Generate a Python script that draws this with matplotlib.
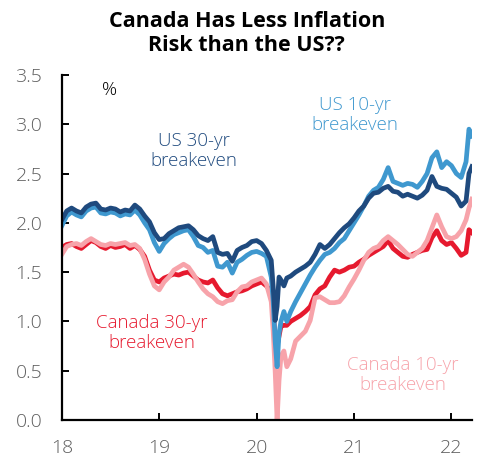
import numpy as np
import matplotlib
matplotlib.use('Agg')
import matplotlib.pyplot as plt

plt.rcParams['font.family'] = ['Open Sans', 'DejaVu Sans']

# decimal year (18 = Jan 2018)
years = [18.00, 18.05, 18.10, 18.15, 18.20, 18.25, 18.30, 18.35, 18.40, 18.45,
         18.50, 18.55, 18.60, 18.65, 18.70, 18.75, 18.80, 18.85, 18.90, 18.95,
         19.00, 19.05, 19.10, 19.15, 19.20, 19.25, 19.30, 19.35, 19.40, 19.45,
         19.50, 19.55, 19.60, 19.65, 19.70, 19.75, 19.80, 19.85, 19.90, 19.95,
         20.00, 20.05, 20.10, 20.15, 20.17, 20.19, 20.21, 20.23, 20.25, 20.28,
         20.31, 20.35, 20.40, 20.45, 20.50, 20.55, 20.60, 20.65, 20.70, 20.75,
         20.80, 20.85, 20.90, 20.95, 21.00, 21.05, 21.10, 21.15, 21.20, 21.25,
         21.30, 21.35, 21.40, 21.45, 21.50, 21.55, 21.60, 21.65, 21.70, 21.75,
         21.80, 21.85, 21.90, 21.95, 22.00, 22.05, 22.10, 22.15, 22.18, 22.21]

us30 = [2.03, 2.12, 2.15, 2.12, 2.10, 2.16, 2.19, 2.20, 2.14, 2.13,
        2.15, 2.14, 2.11, 2.13, 2.12, 2.18, 2.14, 2.07, 2.01, 1.90,
        1.83, 1.84, 1.89, 1.92, 1.95, 1.96, 1.97, 1.93, 1.87, 1.84,
        1.82, 1.86, 1.70, 1.68, 1.69, 1.61, 1.72, 1.75, 1.77, 1.81,
        1.82, 1.79, 1.72, 1.62, 1.35, 1.01, 1.15, 1.45, 1.42, 1.36,
        1.44, 1.46, 1.50, 1.53, 1.56, 1.60, 1.68, 1.78, 1.74, 1.78,
        1.84, 1.90, 1.95, 1.99, 2.05, 2.12, 2.17, 2.25, 2.30, 2.31,
        2.35, 2.37, 2.32, 2.31, 2.27, 2.29, 2.27, 2.25, 2.28, 2.33,
        2.47, 2.37, 2.35, 2.34, 2.30, 2.26, 2.17, 2.22, 2.50, 2.57]

us10 = [1.97, 2.07, 2.11, 2.08, 2.06, 2.12, 2.15, 2.16, 2.10, 2.09,
        2.11, 2.10, 2.07, 2.09, 2.08, 2.13, 2.08, 2.00, 1.93, 1.80,
        1.71, 1.79, 1.84, 1.88, 1.90, 1.92, 1.93, 1.86, 1.77, 1.75,
        1.70, 1.72, 1.56, 1.55, 1.60, 1.49, 1.60, 1.63, 1.67, 1.70,
        1.71, 1.69, 1.66, 1.45, 1.20, 0.80, 0.54, 0.88, 1.00, 1.10,
        1.00, 1.10, 1.20, 1.29, 1.38, 1.47, 1.55, 1.62, 1.68, 1.70,
        1.74, 1.80, 1.84, 1.92, 2.00, 2.08, 2.17, 2.27, 2.33, 2.36,
        2.44, 2.56, 2.42, 2.40, 2.38, 2.40, 2.39, 2.36, 2.42, 2.50,
        2.66, 2.72, 2.56, 2.62, 2.58, 2.50, 2.46, 2.62, 2.95, 2.88]

can30 = [1.75, 1.78, 1.79, 1.76, 1.74, 1.78, 1.82, 1.80, 1.76, 1.74,
         1.77, 1.75, 1.76, 1.78, 1.74, 1.77, 1.73, 1.66, 1.52, 1.42,
         1.40, 1.44, 1.46, 1.48, 1.47, 1.49, 1.50, 1.46, 1.42, 1.40,
         1.39, 1.42, 1.34, 1.28, 1.26, 1.28, 1.30, 1.31, 1.33, 1.36,
         1.38, 1.40, 1.36, 1.30, 1.10, 0.85, 0.75, 0.85, 0.95, 0.96,
         0.96, 1.00, 1.03, 1.06, 1.10, 1.15, 1.27, 1.33, 1.36, 1.45,
         1.52, 1.50, 1.52, 1.55, 1.56, 1.60, 1.63, 1.67, 1.70, 1.73,
         1.76, 1.82, 1.74, 1.70, 1.66, 1.65, 1.68, 1.70, 1.72, 1.73,
         1.85, 1.92, 1.82, 1.78, 1.80, 1.74, 1.67, 1.70, 1.93, 1.90]

can10 = [1.68, 1.76, 1.78, 1.79, 1.77, 1.81, 1.84, 1.81, 1.78, 1.77,
         1.79, 1.78, 1.79, 1.80, 1.77, 1.78, 1.74, 1.63, 1.48, 1.36,
         1.32, 1.40, 1.45, 1.52, 1.55, 1.58, 1.55, 1.48, 1.40, 1.33,
         1.28, 1.25, 1.20, 1.18, 1.21, 1.22, 1.30, 1.35, 1.36, 1.40,
         1.42, 1.44, 1.38, 1.20, 0.90, 0.50, 0.00, 0.40, 0.65, 0.70,
         0.54, 0.62, 0.80, 0.85, 0.90, 1.01, 1.24, 1.25, 1.22, 1.19,
         1.19, 1.20, 1.26, 1.35, 1.43, 1.52, 1.62, 1.70, 1.74, 1.76,
         1.82, 1.86, 1.82, 1.78, 1.73, 1.68, 1.66, 1.70, 1.74, 1.82,
         1.95, 2.08, 1.96, 1.86, 1.84, 1.86, 1.92, 2.03, 2.15, 2.24]

x_ticks = [18, 19, 20, 21, 22]
y_ticks = [0.0, 0.5, 1.0, 1.5, 2.0, 2.5, 3.0, 3.5]

navy = '#1f4a7e'
lblue = '#3f98cf'
red = '#e6192e'
pink = '#f7a3aa'

fig = plt.figure(figsize=(4.83, 4.57), dpi=100)
ax = fig.add_axes([0.128, 0.081, 0.849, 0.755])

lw = 3.4
ax.plot(years, can30, color=red, lw=lw)
ax.plot(years, can10, color=pink, lw=lw)
ax.plot(years, us10, color=lblue, lw=lw)
ax.plot(years, us30, color=navy, lw=lw)

ax.set_xlim(18, 22.21)
ax.set_ylim(0, 3.5)
ax.set_xticks(x_ticks)
ax.set_xticklabels([str(v) for v in x_ticks])
ax.set_yticks(y_ticks)
ax.set_yticklabels(['%.1f' % v for v in y_ticks])

for s in ['top', 'right']:
    ax.spines[s].set_visible(False)
for s in ['left', 'bottom']:
    ax.spines[s].set_linewidth(1.6)
ax.tick_params(axis='both', direction='in', length=5, width=1.4, pad=14,
               labelsize=14, labelcolor='#5f5f5f')
for lab in ax.get_xticklabels() + ax.get_yticklabels():
    lab.set_fontweight('light')

lab_kw = dict(fontsize=13.5, ha='center', va='center', linespacing=1.15,
              fontweight='light')
ax.text(18.49, 3.35, '%', color='black', **lab_kw)
ax.text(19.36, 2.73, 'US 30-yr\nbreakeven', color=navy, **lab_kw)
ax.text(21.01, 3.09, 'US 10-yr\nbreakeven', color=lblue, **lab_kw)
ax.text(18.92, 0.88, 'Canada 30-yr\nbreakeven', color=red, **lab_kw)
ax.text(21.5, 0.46, 'Canada 10-yr\nbreakeven', color=pink, **lab_kw)

fig.text(0.511, 0.927, 'Canada Has Less Inflation\nRisk than the US??',
         ha='center', va='center', fontsize=15.5, fontweight='bold',
         linespacing=1.15)

fig.savefig('out.png', dpi=100)
